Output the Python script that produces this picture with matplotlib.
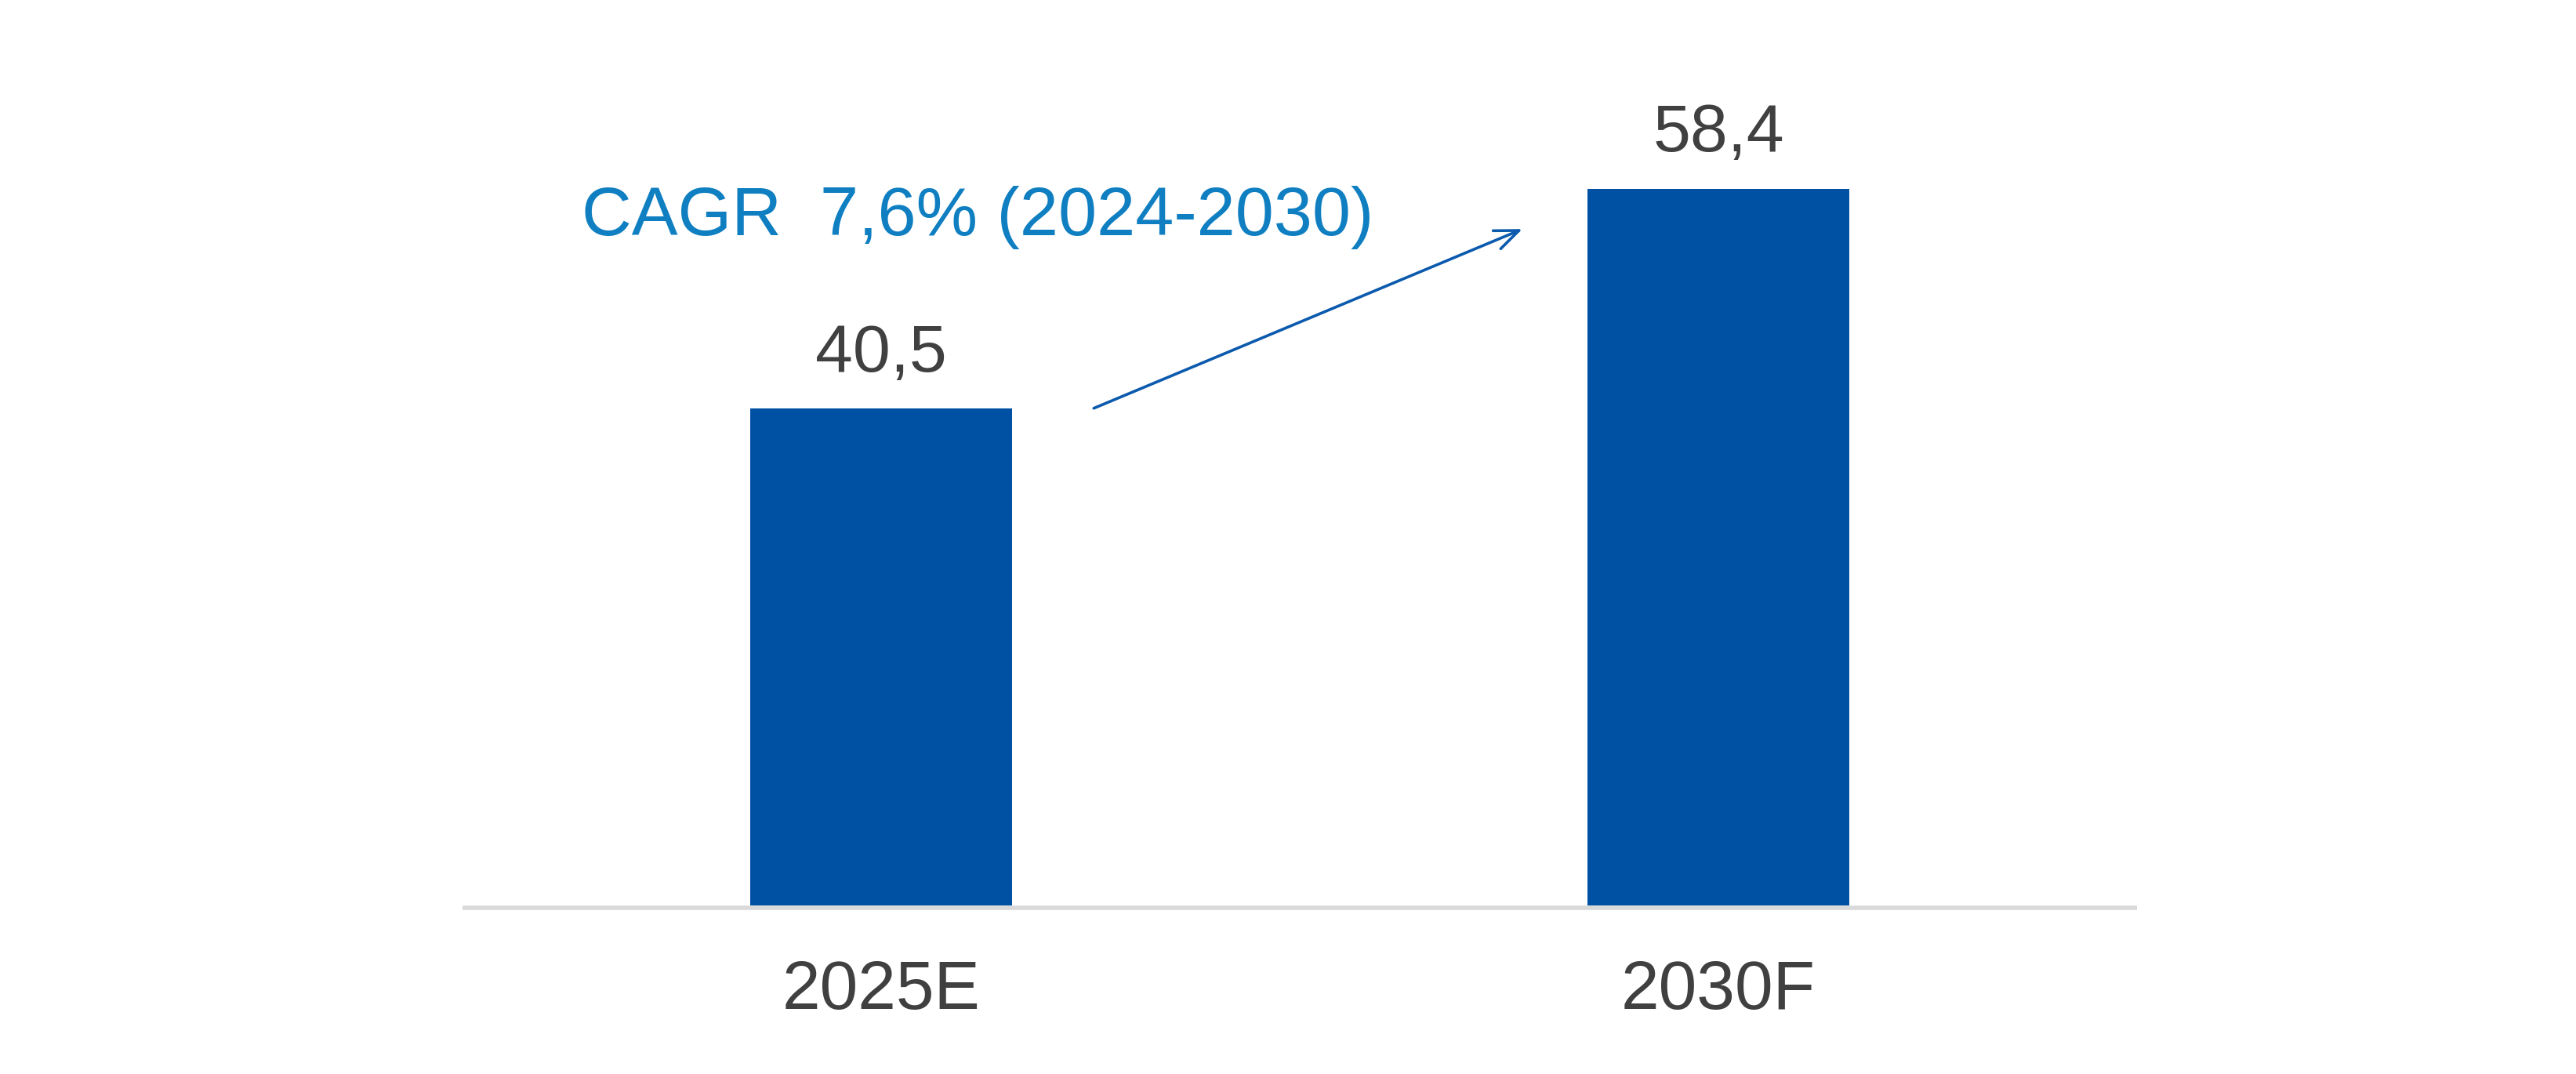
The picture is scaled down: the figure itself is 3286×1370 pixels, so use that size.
import matplotlib.pyplot as plt

plt.rcParams['font.family'] = ['Liberation Sans', 'DejaVu Sans']

categories = ['2025E', '2030F']
values = [40.5, 58.4]
value_labels = ['40,5', '58,4']
cagr_text = 'CAGR  7,6% (2024-2030)'

bar_color = '#0050A4'
text_color = '#404040'
cagr_color = '#0F7FC1'
arrow_color = '#0B5AAE'

fig = plt.figure(figsize=(32.87, 13.70), dpi=100)
ax = fig.add_axes([0.1795, 0.157, 0.6498, 0.80])

x = range(len(categories))
ax.bar(x, values, width=0.3125, color=bar_color, zorder=3)

for i, (v, lab) in enumerate(zip(values, value_labels)):
    ax.annotate(lab, (i, v), xytext=(0, 34), textcoords='offset points',
                ha='center', va='baseline', fontsize=62, color=text_color)

ax.set_xlim(-0.5, 1.5)
ax.set_ylim(0, 70)

for s in ['top', 'right', 'left']:
    ax.spines[s].set_visible(False)
ax.spines['bottom'].set_position(('outward', 2))
ax.spines['bottom'].set_color('#d9d9d9')
ax.spines['bottom'].set_linewidth(4)
ax.spines['bottom'].set_capstyle('butt')
ax.spines['bottom'].set_zorder(1)

# ticks after the spine move, otherwise the label style gets reset
ax.set_xticks(list(x))
ax.set_xticklabels(categories)
ax.tick_params(axis='x', length=0, pad=48, labelsize=63, labelcolor=text_color)
ax.set_yticks([])

# CAGR annotation with arrow
fig.text(0.2257, 0.781, cagr_text, fontsize=63.5, color=cagr_color,
         ha='left', va='baseline')
ax.annotate('', xy=(0.766, 55.1), xytext=(0.254, values[0]),
            arrowprops=dict(arrowstyle='->,head_length=2.2,head_width=0.9',
                            color=arrow_color, lw=2.6, shrinkA=0, shrinkB=0))

fig.savefig('out.png', dpi=100, facecolor='white')
